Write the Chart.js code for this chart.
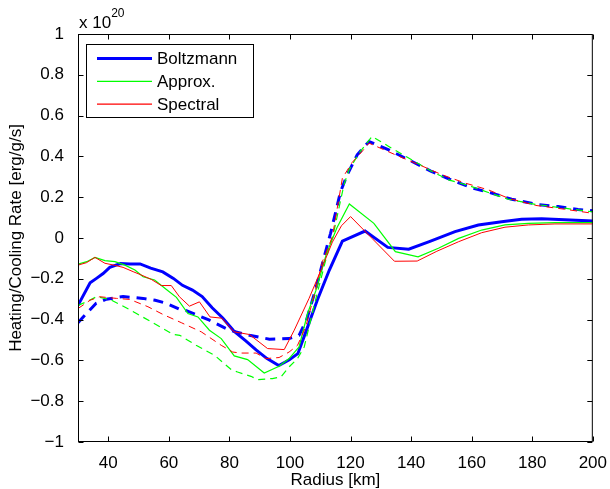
<!DOCTYPE html>
<html>
<head>
<meta charset="utf-8">
<script src="https://cdn.jsdelivr.net/npm/chart.js@4.4.1/dist/chart.umd.min.js"></script>
<style>
  html, body { margin: 0; padding: 0; background: #fff; }
  canvas { display: block; }
</style>
</head>
<body>
<canvas id="graficoTasa" width="610" height="489"></canvas>
<script>
// radius [km] and heating/cooling rate [x 1e20 erg/g/s]
const boltzRadius = [30, 34, 36.1, 38.3, 40.5, 44, 47.2, 50.5, 54, 58, 61.5, 64.5, 67.8, 71, 74.3, 77.8, 81.4, 85.3, 88.8, 92.3, 96.3, 99.8, 102.6, 105, 109, 113, 117.3, 124.8, 132.3, 139.2, 146, 154.5, 162.2, 169.9, 176.5, 183.1, 190.7, 200];
const boltzRate = [-0.33, -0.22, -0.198, -0.174, -0.144, -0.125, -0.128, -0.127, -0.148, -0.166, -0.198, -0.232, -0.255, -0.287, -0.342, -0.392, -0.455, -0.503, -0.548, -0.59, -0.625, -0.597, -0.567, -0.47, -0.305, -0.157, -0.015, 0.034, -0.046, -0.055, -0.018, 0.031, 0.064, 0.08, 0.092, 0.094, 0.089, 0.083];

const boltzDashRadius = [30, 32.8, 36, 39.4, 44.9, 51.5, 55.5, 59.2, 63.6, 66, 73.4, 80, 86.6, 93.2, 99.7, 103, 105.5, 108.5, 111.3, 113.4, 116.7, 118.9, 122.2, 126.1, 132.6, 140.3, 146.5, 153.5, 160, 166.6, 173.2, 182, 188.5, 195.1, 200];
const boltzDashRate = [-0.415, -0.37, -0.32, -0.3, -0.287, -0.296, -0.305, -0.32, -0.35, -0.357, -0.403, -0.452, -0.477, -0.496, -0.493, -0.477, -0.4, -0.25, -0.092, 0.023, 0.227, 0.31, 0.408, 0.473, 0.432, 0.375, 0.328, 0.283, 0.246, 0.22, 0.19, 0.164, 0.154, 0.14, 0.133];

const approxRadius = [30, 32.9, 35.6, 38.9, 42.2, 45.5, 48.8, 51.5, 55.3, 59.2, 62.5, 66.3, 69.6, 73.4, 77.3, 81.6, 86, 91.5, 96.4, 99.7, 103, 105.8, 108.5, 112, 115.5, 119.6, 127.7, 134.8, 142.3, 149, 155.7, 163.3, 171, 178.7, 187.5, 200];
const approxRate = [-0.128, -0.116, -0.095, -0.111, -0.116, -0.133, -0.157, -0.19, -0.206, -0.252, -0.291, -0.37, -0.387, -0.452, -0.493, -0.578, -0.596, -0.662, -0.629, -0.591, -0.534, -0.37, -0.26, -0.08, 0.05, 0.167, 0.072, -0.067, -0.092, -0.05, -0.002, 0.039, 0.064, 0.072, 0.075, 0.075];

const approxDashRadius = [30, 32.8, 36.1, 40.5, 44.4, 49.3, 54.8, 61.3, 63.6, 69, 75.1, 80.6, 82.7, 87.1, 89.3, 94.2, 97, 99.7, 102.5, 104.7, 108, 111.8, 114.5, 117.8, 119.5, 122.8, 127.1, 132.6, 139.2, 146.9, 152.4, 159, 165.5, 172.1, 181, 190.7, 200];
const approxDashRate = [-0.33, -0.313, -0.288, -0.301, -0.33, -0.37, -0.416, -0.472, -0.477, -0.526, -0.575, -0.645, -0.657, -0.678, -0.694, -0.689, -0.681, -0.632, -0.591, -0.534, -0.33, -0.108, 0.031, 0.26, 0.334, 0.416, 0.498, 0.449, 0.392, 0.326, 0.285, 0.257, 0.223, 0.19, 0.165, 0.146, 0.128];

const spectralRadius = [30, 32.8, 35.6, 38.9, 42.2, 44.9, 48.2, 51, 54.2, 57.5, 60.8, 63.5, 66.8, 70.1, 73.6, 77.5, 81.5, 86.6, 92.6, 98.1, 101.4, 106.3, 110.7, 114, 117, 120, 127.1, 134.5, 142, 148.5, 155.7, 163.3, 171, 178.7, 187.5, 200];
const spectralRate = [-0.133, -0.121, -0.095, -0.124, -0.134, -0.144, -0.165, -0.182, -0.203, -0.233, -0.233, -0.288, -0.334, -0.313, -0.387, -0.393, -0.46, -0.473, -0.542, -0.547, -0.452, -0.296, -0.141, -0.02, 0.06, 0.105, -0.002, -0.114, -0.113, -0.065, -0.018, 0.026, 0.053, 0.064, 0.069, 0.069];

const spectralDashRadius = [30, 34, 37.2, 42.7, 47.1, 53.1, 58.1, 64.1, 70.7, 77.3, 81.1, 83.8, 88.8, 92.1, 96.4, 99.7, 102.5, 105.2, 108, 110.7, 114, 117.3, 120.5, 123.8, 126.1, 134.8, 142.5, 150.2, 157.9, 165.5, 172.1, 181, 190.7, 200];
const spectralDashRate = [-0.346, -0.305, -0.288, -0.296, -0.301, -0.337, -0.375, -0.415, -0.46, -0.526, -0.559, -0.564, -0.564, -0.591, -0.586, -0.559, -0.526, -0.436, -0.28, -0.116, 0.006, 0.293, 0.37, 0.424, 0.465, 0.408, 0.36, 0.31, 0.269, 0.236, 0.195, 0.16, 0.141, 0.121];

const seriesNames = ['Boltzmann', 'Approx.', 'Spectral'];
const seriesColors = ['#0000ff', '#00ff00', '#ff0000'];
const rateExponent = 20;

const FONT = '"Liberation Sans", Arial, Helvetica, sans-serif';

function toPoints(xs, ys) {
  return xs.map((v, i) => ({ x: v, y: ys[i] }));
}

function makeSet(label, xs, ys, color, width, dash, order) {
  return {
    label: label,
    data: toPoints(xs, ys),
    borderColor: color,
    backgroundColor: color,
    borderWidth: width,
    borderDash: dash,
    pointRadius: 0,
    tension: 0,
    fill: false,
    order: order
  };
}

// box, inward ticks on all four sides, exponent and legend like MATLAB
const matlabFrame = {
  id: 'matlabFrame',
  afterDatasetsDraw(chart) {
    const { ctx, chartArea: a, scales } = chart;
    const L = a.left + 0.5, R = a.right - 0.5, T = a.top + 0.5, B = a.bottom - 0.5;
    ctx.save();
    ctx.strokeStyle = '#000';
    ctx.lineWidth = 1;
    ctx.setLineDash([]);
    ctx.strokeRect(L, T, R - L, B - T);

    const tick = 5;
    ctx.beginPath();
    scales.x.ticks.forEach(t => {
      const px = Math.round(scales.x.getPixelForValue(t.value)) + 0.5;
      ctx.moveTo(px, B); ctx.lineTo(px, B - tick);
      ctx.moveTo(px, T); ctx.lineTo(px, T + tick);
    });
    scales.y.ticks.forEach(t => {
      const py = Math.round(scales.y.getPixelForValue(t.value)) + 0.5;
      ctx.moveTo(L, py); ctx.lineTo(L + tick, py);
      ctx.moveTo(R, py); ctx.lineTo(R - tick, py);
    });
    ctx.stroke();

    // exponent above the y axis
    ctx.fillStyle = '#000';
    ctx.textBaseline = 'alphabetic';
    ctx.textAlign = 'left';
    ctx.font = '17px ' + FONT;
    ctx.fillText('x 10', 79, 28);
    const w = ctx.measureText('x 10').width;
    ctx.font = '12px ' + FONT;
    ctx.fillText(String(rateExponent), 79 + w, 17);

    // legend box
    const bx = 86.5, by = 44.5, bw = 167, bh = 73;
    ctx.fillStyle = '#fff';
    ctx.fillRect(bx, by, bw, bh);
    ctx.strokeRect(bx, by, bw, bh);
    ctx.font = '17px ' + FONT;
    ctx.textBaseline = 'middle';
    seriesNames.forEach((name, i) => {
      const ly = 58.5 + i * 22.8;
      ctx.beginPath();
      ctx.strokeStyle = seriesColors[i];
      ctx.lineWidth = i === 0 ? 3 : 1.2;
      ctx.moveTo(97, ly); ctx.lineTo(152, ly);
      ctx.stroke();
      ctx.fillStyle = '#000';
      ctx.fillText(name, 157, ly + 1);
    });
    ctx.restore();
  }
};

document.addEventListener('DOMContentLoaded', () => {
  const ctx = document.getElementById('graficoTasa').getContext('2d');

  const data = {
    datasets: [
      makeSet('Boltzmann', boltzRadius, boltzRate, seriesColors[0], 3, [], 6),
      makeSet('Boltzmann (dashed)', boltzDashRadius, boltzDashRate, seriesColors[0], 3, [10, 7], 5),
      makeSet('Approx.', approxRadius, approxRate, seriesColors[1], 1.2, [], 4),
      makeSet('Approx. (dashed)', approxDashRadius, approxDashRate, seriesColors[1], 1.2, [7, 5], 3),
      makeSet('Spectral', spectralRadius, spectralRate, seriesColors[2], 1, [], 2),
      makeSet('Spectral (dashed)', spectralDashRadius, spectralDashRate, seriesColors[2], 1, [7, 5], 1)
    ]
  };

  const tickFont = { family: FONT, size: 17 };

  const options = {
    responsive: false,
    animation: false,
    devicePixelRatio: 1,
    layout: { padding: { top: 34, right: 14, left: 0, bottom: 0 } },
    plugins: {
      legend: { display: false },
      tooltip: { enabled: false }
    },
    scales: {
      x: {
        type: 'linear',
        min: 30,
        max: 200,
        grid: { display: false },
        border: { display: false },
        ticks: {
          stepSize: 20,
          includeBounds: false,
          color: '#000',
          font: tickFont,
          padding: 3,
          maxRotation: 0
        },
        title: {
          display: true,
          text: 'Radius [km]',
          color: '#000',
          font: { family: FONT, size: 17, lineHeight: 1 },
          padding: 0
        },
        afterFit: s => { s.height = 47; }
      },
      y: {
        type: 'linear',
        min: -1,
        max: 1,
        grid: { display: false },
        border: { display: false },
        ticks: {
          stepSize: 0.2,
          color: '#000',
          font: tickFont,
          padding: 6,
          callback: v => {
            const r = Math.round(v * 10) / 10;
            if (r === 0) return '0';
            return r < 0 ? '\u2212' + String(-r) : String(r);
          }
        },
        title: {
          display: true,
          text: 'Heating/Cooling Rate [erg/g/s]',
          color: '#000',
          font: { family: FONT, size: 17, lineHeight: 1.2 },
          padding: { top: 6, bottom: 0 }
        },
        afterFit: s => { s.width = 78; }
      }
    }
  };

  new Chart(ctx, {
    type: 'line',
    data: data,
    options: options,
    plugins: [matlabFrame]
  });
});
</script>
</body>
</html>
